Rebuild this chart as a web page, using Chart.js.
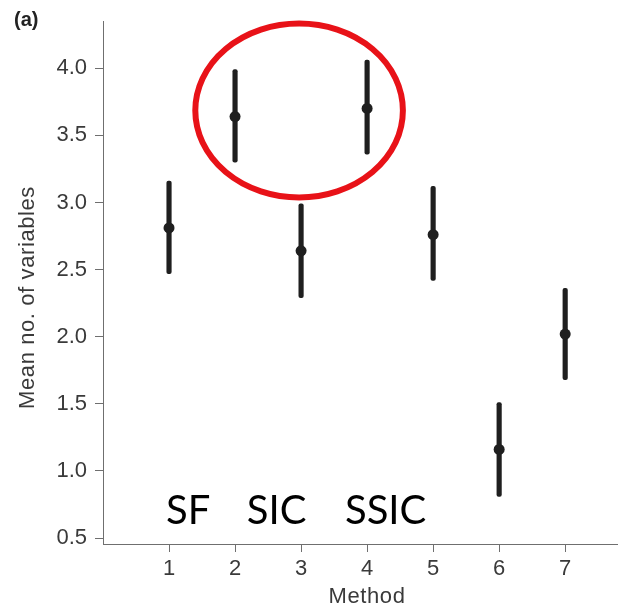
<!DOCTYPE html>
<html>
<head>
<meta charset="utf-8">
<script src="https://cdn.jsdelivr.net/npm/chart.js@4/dist/chart.umd.min.js"></script>
<style>
  html, body { margin: 0; padding: 0; background: #fff; }
  #wrap { width: 618px; height: 612px; }
</style>
</head>
<body>
<div id="wrap"><canvas id="c" width="618" height="612"></canvas></div>
<script>
// Methods on the x axis
const methods = [1, 2, 3, 4, 5, 6, 7];
// Mean number of variables selected, with lower / upper interval limits
const means = [2.81, 3.64, 2.64, 3.70, 2.76, 1.16, 2.02];
const lower = [2.47, 3.30, 2.29, 3.36, 2.42, 0.81, 1.68];
const upper = [3.16, 3.99, 2.99, 4.06, 3.12, 1.51, 2.36];
// Axis tick values
const xTicks = [1, 2, 3, 4, 5, 6, 7];
const yTicks = [0.5, 1.0, 1.5, 2.0, 2.5, 3.0, 3.5, 4.0];
// Method names written inside the plot
const methodNames = ['SF', 'SIC', 'SSIC'];

const INK = '#1f1f1f';
const AXIS = '#6f6f6f';
const TXT = '#3a3a3a';
const FONT = "'Liberation Sans', Arial, Helvetica, sans-serif";

// Placement of the method names and the highlight ring, in data units
const nameSpots = [{x: 1.29, y: 0.71}, {x: 2.63, y: 0.71}, {x: 4.28, y: 0.71}];
const ring = {cx: 2.97, cy: 3.685, rx: 1.572, ry: 0.648};

const overlay = {
  id: 'overlay',
  afterDatasetsDraw(chart) {
    const {ctx, scales: {x, y}} = chart;
    ctx.save();
    // method names
    ctx.fillStyle = '#000';
    ctx.font = "40px Lato, 'Open Sans', sans-serif";
    ctx.textAlign = 'center';
    ctx.textBaseline = 'alphabetic';
    methodNames.forEach((t, i) => {
      const px = x.getPixelForValue(nameSpots[i].x);
      const py = y.getPixelForValue(nameSpots[i].y);
      ctx.fillText(t, px, py + 14.5);
    });
    // red ring around the two best methods
    const cx = x.getPixelForValue(ring.cx);
    const cy = y.getPixelForValue(ring.cy);
    const rx = Math.abs(x.getPixelForValue(ring.cx + ring.rx) - cx);
    const ry = Math.abs(y.getPixelForValue(ring.cy + ring.ry) - cy);
    ctx.beginPath();
    ctx.ellipse(cx, cy, rx, ry, 0, 0, Math.PI * 2);
    ctx.strokeStyle = 'rgb(232,18,24)';
    ctx.lineWidth = 6;
    ctx.stroke();
    ctx.restore();
  },
  afterDraw(chart) {
    const {ctx} = chart;
    ctx.save();
    // axis titles
    ctx.fillStyle = TXT;
    ctx.font = "22px " + FONT;
    ctx.textAlign = 'center';
    ctx.textBaseline = 'middle';
    if ('letterSpacing' in ctx) ctx.letterSpacing = '0.6px';
    ctx.fillText('Method', 367, 597);
    ctx.translate(27.5, 297.5);
    ctx.rotate(-Math.PI / 2);
    ctx.fillText('Mean no. of variables', 0, 0);
    ctx.restore();
    // panel letter
    ctx.save();
    ctx.fillStyle = '#222';
    ctx.font = "bold 20px " + FONT;
    ctx.textAlign = 'left';
    ctx.textBaseline = 'middle';
    ctx.fillText('(a)', 14, 20);
    ctx.restore();
  }
};

new Chart(document.getElementById('c'), {
  type: 'bar',
  data: {
    datasets: [
      {
        type: 'bar',
        data: methods.map((m, i) => ({x: m, y: [lower[i], upper[i]]})),
        backgroundColor: INK,
        borderWidth: 0,
        borderRadius: 2,
        borderSkipped: false,
        barThickness: 4.5,
        order: 2
      },
      {
        type: 'scatter',
        data: methods.map((m, i) => ({x: m, y: means[i]})),
        backgroundColor: INK,
        borderColor: INK,
        pointRadius: 5.5,
        pointBorderWidth: 0,
        order: 1
      }
    ]
  },
  options: {
    responsive: false,
    animation: false,
    devicePixelRatio: 1,
    layout: {autoPadding: false, padding: {top: 18, right: 0, bottom: 0, left: 0}},
    plugins: {legend: {display: false}, tooltip: {enabled: false}},
    scales: {
      x: {
        type: 'linear',
        min: 0,
        max: 7.80,
        offset: false,
        afterBuildTicks: s => { s.ticks = xTicks.map(v => ({value: v})); },
        afterFit: s => { s.height = 68; s.paddingLeft = 0; s.paddingRight = 0; },
        grid: {display: true, drawOnChartArea: false, drawTicks: true, tickLength: 8, color: AXIS, offset: false},
        border: {display: true, color: AXIS, width: 1},
        ticks: {color: TXT, padding: 4, font: {family: FONT, size: 22}, maxRotation: 0, callback: v => String(v)},
        title: {display: false}
      },
      y: {
        type: 'linear',
        min: 0.456,
        max: 4.35,
        afterBuildTicks: s => { s.ticks = yTicks.map(v => ({value: v})); },
        afterFit: s => { s.width = 103; },
        grid: {display: true, drawOnChartArea: false, drawTicks: true, tickLength: 8, color: AXIS},
        border: {display: true, color: AXIS, width: 1},
        ticks: {color: TXT, padding: 8, font: {family: FONT, size: 22}, callback: v => v.toFixed(1)},
        title: {display: false}
      }
    }
  },
  plugins: [overlay]
});
</script>
</body>
</html>
